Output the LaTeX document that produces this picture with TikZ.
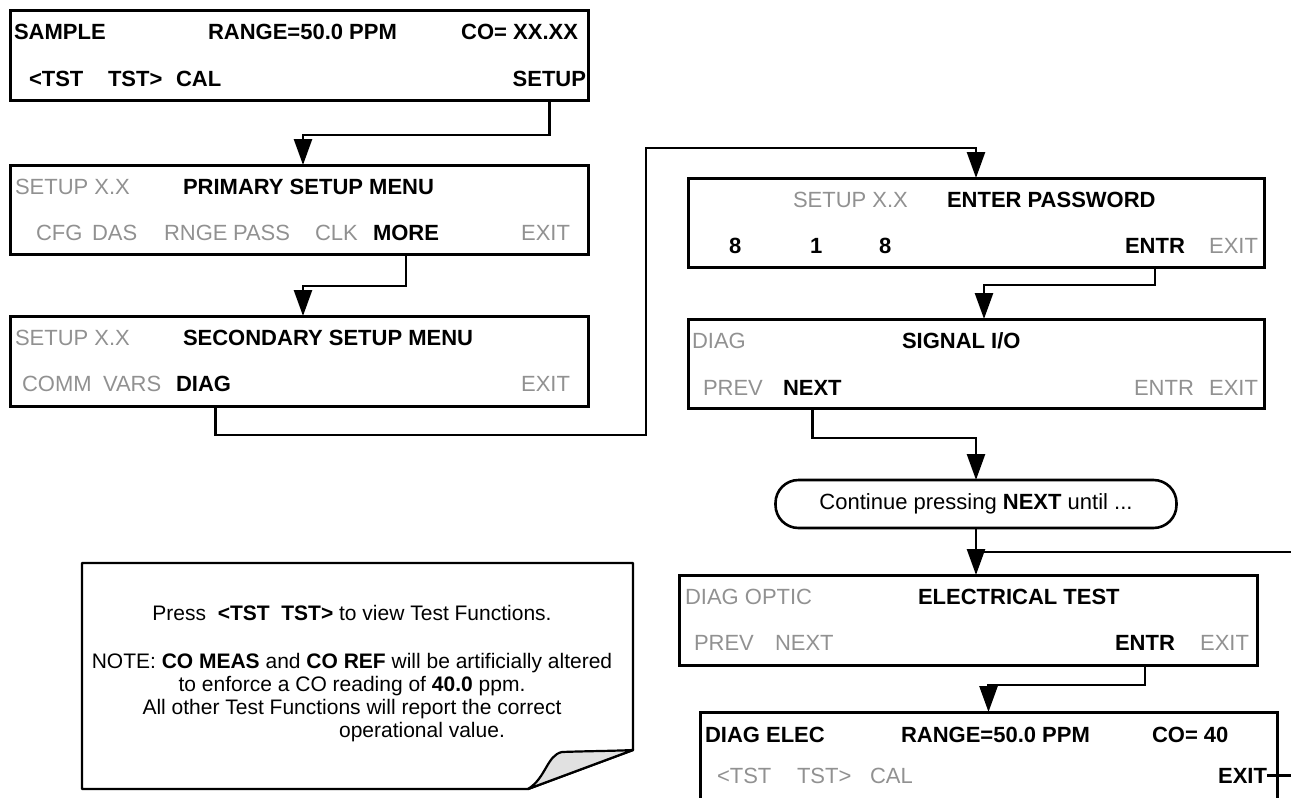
\documentclass[tikz,border=0pt]{standalone}
\usepackage{fontspec}
\setmainfont{Liberation Sans}
\usetikzlibrary{arrows.meta}
\definecolor{dim}{RGB}{145,145,145}
\definecolor{flapgray}{RGB}{225,225,225}
\begin{document}
\fontsize{22}{26}\selectfont
\begin{tikzpicture}[x=1pt,y=-1pt,
  box/.style={draw, line width=3pt, inner sep=0pt, outer sep=0pt, anchor=north west},
  tx/.style={inner sep=0pt, outer sep=0pt},
  bt/.style={tx, font=\bfseries},
  gt/.style={tx, text=dim},
  conn/.style={line width=2.6pt},
  arr/.style={conn, -{Triangle[length=26pt,width=18pt]}},
  ntx/.style={inner sep=0pt, outer sep=0pt, anchor=base, font=\fontsize{21}{23}\selectfont}]
\useasboundingbox (0,0) rectangle (1291,798);

% ---------- Box 1
\node[box, minimum width=578pt, minimum height=90pt] (b1) at (10,10) {};
\node[bt, anchor=base west] (sample) at (14,39) {SAMPLE};
\node[bt, anchor=base west] (range1) at (208,39) {RANGE=50.0 PPM};
\node[bt, anchor=base east] (co1) at (578,39) {CO= XX.XX};
\node[bt, anchor=base west] (tstl1) at (29,86) {<TST};
\node[bt, anchor=base west] (tstr1) at (108,86) {TST>};
\node[bt, anchor=base west] (cal1) at (176,86) {CAL};
\node[bt, anchor=base east] (setup) at (586,86) {SETUP};

% ---------- Box 2
\node[box, minimum width=578pt, minimum height=89pt] (b2) at (10,165) {};
\node[gt, anchor=base west] (setup2) at (15,194) {SETUP X.X};
\node[bt, anchor=base west] (prim) at (183,194) {PRIMARY SETUP MENU};
\node[gt, anchor=base west] (cfg) at (36,240) {CFG};
\node[gt, anchor=base west] (das) at (92,240) {DAS};
\node[gt, anchor=base west] (rnge) at (164,240) {RNGE};
\node[gt, anchor=base west] (pass) at (233,240) {PASS};
\node[gt, anchor=base west] (clk) at (315,240) {CLK};
\node[bt, anchor=base west] (more) at (373,240) {MORE};
\node[gt, anchor=base east] (exit2) at (570,240) {EXIT};

% ---------- Box 3
\node[box, minimum width=578pt, minimum height=90pt] (b3) at (10,316) {};
\node[gt, anchor=base west] (setup3) at (15,345) {SETUP X.X};
\node[bt, anchor=base west] (sec) at (183,345) {SECONDARY SETUP MENU};
\node[gt, anchor=base west] (comm) at (22,391) {COMM};
\node[gt, anchor=base west] (vars) at (103,391) {VARS};
\node[bt, anchor=base west] (diag) at (176,391) {DIAG};
\node[gt, anchor=base east] (exit3) at (570,391) {EXIT};

% ---------- Box 4
\node[box, minimum width=576pt, minimum height=89pt] (b4) at (688,178) {};
\node[gt, anchor=base west] (setup4) at (793,207) {SETUP X.X};
\node[bt, anchor=base west] (enter) at (947,207) {ENTER PASSWORD};
\node[bt, anchor=base west] (d8a) at (729,253) {8};
\node[bt, anchor=base west] (d1) at (810,253) {1};
\node[bt, anchor=base west] (d8b) at (879,253) {8};
\node[bt, anchor=base west] (entr4) at (1125,253) {ENTR};
\node[gt, anchor=base east] (exit4) at (1258,253) {EXIT};

% ---------- Box 5
\node[box, minimum width=576pt, minimum height=89pt] (b5) at (688,319) {};
\node[gt, anchor=base west] (diag5) at (692,348) {DIAG};
\node[bt, anchor=base west] (sig) at (902,348) {SIGNAL I/O};
\node[gt, anchor=base west] (prev5) at (703,395) {PREV};
\node[bt, anchor=base west] (next5) at (783,395) {NEXT};
\node[gt, anchor=base west] (entr5) at (1134,395) {ENTR};
\node[gt, anchor=base east] (exit5) at (1258,395) {EXIT};

% ---------- Rounded box
\node[draw, line width=2.6pt, rounded corners=23pt, minimum width=401pt, minimum height=48pt, inner sep=0pt, outer sep=0pt]
  (rb) at (976,504) {Continue pressing \textbf{NEXT} until ...};

% ---------- Box 6
\node[box, minimum width=578pt, minimum height=90pt] (b6) at (679,575) {};
\node[gt, anchor=base west] (opt) at (685,604) {DIAG OPTIC};
\node[bt, anchor=base west] (elec) at (918,604) {ELECTRICAL TEST};
\node[gt, anchor=base west] (prev6) at (694,650) {PREV};
\node[gt, anchor=base west] (next6) at (775,650) {NEXT};
\node[bt, anchor=base west] (entr6) at (1115,650) {ENTR};
\node[gt, anchor=base east] (exit6) at (1249,650) {EXIT};

% ---------- Box 7 (cut by the lower edge)
\coordinate (j) at (976,552);
\begin{scope}
\clip (0,0) rectangle (1291,798);
\node[box, minimum width=577pt, minimum height=130pt] (b7) at (700,712) {};
\node[bt, anchor=base west] (dele) at (705,742) {DIAG ELEC};
\node[bt, anchor=base west] (range7) at (901,742) {RANGE=50.0 PPM};
\node[bt, anchor=base west] (co7) at (1152,742) {CO= 40};
\node[gt, anchor=base west] (tstl7) at (717,783) {<TST};
\node[gt, anchor=base west] (tstr7) at (797,783) {TST>};
\node[gt, anchor=base west] (cal7) at (870,783) {CAL};
\node[bt, anchor=base east] (exit7) at (1267,783) {EXIT};
\draw[conn] (exit7.east) -- ++(40,0) |- (j);
\end{scope}

% ---------- Connectors
\coordinate (k1) at (646,148);
\draw[arr] (setup.south |- b1.south) -- ++(0,35) -| ([xshift=4pt]b2.north);
\draw[arr] (more.south |- b2.south) -- ++(0,32) -| ([xshift=4pt]b3.north);
\draw[arr] ([xshift=12pt]diag.south |- b3.south) -- ++(0,29) -| (k1) -| (b4.north);
\draw[arr] (entr4.south |- b4.south) -- ++(0,18) -| ([xshift=8pt]b5.north);
\draw[arr] (next5.south |- b5.south) -- ++(0,30) -| (rb.north);
\draw[arr] (rb.south) -- (rb.south |- b6.north);
\draw[arr] (entr6.south |- b6.south) -- ++(0,20) -| (b7.north);

% ---------- Note
\draw[line width=2.4pt, line join=round, fill=white] (82,563) -- (633,563) -- (633,750) -- (528,789) -- (82,789) -- cycle;
\draw[line width=2.2pt, line join=round, fill=flapgray] (528,789) .. controls (546,778) and (547,755) .. (562,752)
   .. controls (590,751) and (612,751) .. (633,750) -- cycle;
\node[ntx] (n1) at (352,620) {Press\ \ \textbf{<TST\ \ TST>} to view Test Functions.};
\node[ntx] (n2) at (352,668) {NOTE: \textbf{CO MEAS} and \textbf{CO REF} will be artificially altered};
\node[ntx] (n3) at (352,691) {to enforce a CO reading of \textbf{40.0} ppm.};
\node[ntx] (n4) at (352,714) {All other Test Functions will report the correct};
\node[ntx] (n5) at (422,737) {operational value.};
\end{tikzpicture}
\end{document}
